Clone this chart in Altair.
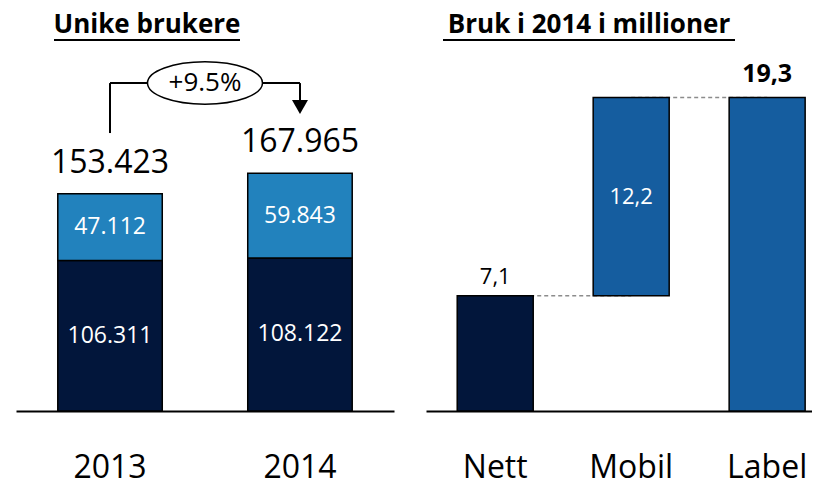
import altair as alt
import pandas as pd

# ---------------- data ----------------
years = ["2013", "2014"]
lower_values = [106311, 108122]
upper_values = [47112, 59843]
lower_labels = ["106.311", "108.122"]
upper_labels = ["47.112", "59.843"]
total_values = [153423, 167965]
total_labels = ["153.423", "167.965"]
growth_label = "+9.5%"
left_title = "Unike brukere"

wf_categories = ["Nett", "Mobil", "Label"]
wf_start = [0, 7.1, 0]
wf_end = [7.1, 19.3, 19.3]
wf_labels = ["7,1", "12,2", "19,3"]
right_title = "Bruk i 2014 i millioner"

# ---------------- style ----------------
FONT = "Open Sans"
NAVY = "#02163b"
LIGHT = "#2282bd"
MID = "#155d9f"

LW, LH = 378, 403
RW, RH = 386, 403
L_MAX = 284600
R_MAX = 24.8

# bracket annotation heights (data units of left panel)
ANN_LOW = 196300
ANN_TOP = 231600
ANN_ARROW = 219600
ANN_TIP = 214700

L_PI, L_PO = 0.45, 0.22
L_STEP = LW / (len(years) - L_PI + 2 * L_PO)

ELLIPSE = ("M-1,0 C-1,-0.2036 -0.5523,-0.3684 0,-0.3684 "
           "C0.5523,-0.3684 1,-0.2036 1,0 "
           "C1,0.2036 0.5523,0.3684 0,0.3684 "
           "C-0.5523,0.3684 -1,0.2036 -1,0 Z")

axis_common = dict(title=None, labelFontSize=32, labelFont=FONT, labelColor="black",
                   labelAngle=0, labelPadding=41, ticks=False, domainColor="black",
                   domainWidth=2, grid=False)

# ---------------- left panel ----------------
seg_rows = []
for i, yr in enumerate(years):
    seg_rows.append(dict(year=yr, seg="lower", start=0, end=lower_values[i],
                         mid=lower_values[i] / 2, label=lower_labels[i]))
    seg_rows.append(dict(year=yr, seg="upper", start=lower_values[i],
                         end=lower_values[i] + upper_values[i],
                         mid=lower_values[i] + upper_values[i] / 2, label=upper_labels[i]))
seg_df = pd.DataFrame(seg_rows)
tot_df = pd.DataFrame(dict(year=years, total=total_values, label=total_labels))

l_scale = alt.Scale(domain=years, paddingInner=L_PI, paddingOuter=L_PO)
xL = alt.X("year:N", sort=years, scale=l_scale, axis=alt.Axis(**axis_common))
yS_L = alt.Scale(domain=[0, L_MAX], nice=False, zero=True)

bars_L = alt.Chart(seg_df).mark_bar(stroke="black", strokeWidth=1.5).encode(
    x=xL,
    y=alt.Y("start:Q", scale=yS_L, axis=None),
    y2="end:Q",
    color=alt.Color("seg:N", scale=alt.Scale(domain=["lower", "upper"], range=[NAVY, LIGHT]),
                    legend=None),
)
inner_L = alt.Chart(seg_df).mark_text(color="white", font=FONT, fontSize=23,
                                      baseline="middle").encode(
    x=xL, y=alt.Y("mid:Q", scale=yS_L, axis=None), text="label:N")
tot_L = alt.Chart(tot_df).mark_text(color="black", font=FONT, fontSize=32,
                                    baseline="middle", dy=-31).encode(
    x=xL, y=alt.Y("total:Q", scale=yS_L, axis=None), text="label:N")

ann_df = pd.DataFrame(dict(a=[years[0]], b=[years[1]], low=[ANN_LOW], top=[ANN_TOP],
                           arrow=[ANN_ARROW], tip=[ANN_TIP], label=[growth_label]))
xa = alt.X("a:N", sort=years, scale=l_scale, axis=alt.Axis(**axis_common))
xb = alt.X("b:N", sort=years, scale=l_scale, axis=alt.Axis(**axis_common))
ann_base = alt.Chart(ann_df)
ann_h = ann_base.mark_rule(color="black", strokeWidth=2).encode(
    x=xa, x2="b:N", y=alt.Y("top:Q", scale=yS_L, axis=None))
ann_l = ann_base.mark_rule(color="black", strokeWidth=2).encode(
    x=xa, y=alt.Y("low:Q", scale=yS_L, axis=None), y2="top:Q")
ann_r = ann_base.mark_rule(color="black", strokeWidth=2).encode(
    x=xb, y=alt.Y("arrow:Q", scale=yS_L, axis=None), y2="top:Q")
ann_tri = ann_base.mark_point(shape="triangle-down", size=256, filled=True, fill="black",
                              opacity=1).encode(
    x=xb, y=alt.Y("tip:Q", scale=yS_L, axis=None))
ann_ell = ann_base.mark_point(shape=ELLIPSE, size=13225, filled=True, fill="white",
                              stroke="black", strokeWidth=1.5, opacity=1,
                              xOffset=L_STEP / 2).encode(
    x=xa, y=alt.Y("top:Q", scale=yS_L, axis=None))
ann_txt = ann_base.mark_text(font=FONT, fontSize=26, color="black", baseline="middle",
                             dx=L_STEP / 2).encode(
    x=xa, y=alt.Y("top:Q", scale=yS_L, axis=None), text="label:N")

title_L = alt.Chart(pd.DataFrame(dict(t=[left_title]))).mark_text(
    font=FONT, fontSize=26, fontWeight="bold", color="black", baseline="middle").encode(
    text="t:N", x=alt.value(131), y=alt.value(17))
uline_L = alt.Chart(pd.DataFrame(dict(t=[left_title]))).mark_rule(
    color="black", strokeWidth=2).encode(x=alt.value(38), x2=alt.value(224), y=alt.value(32))

left = alt.layer(bars_L, inner_L, tot_L, ann_h, ann_l, ann_r, ann_tri, ann_ell, ann_txt,
                 title_L, uline_L).properties(width=LW, height=LH)

# ---------------- right panel ----------------
wf_df = pd.DataFrame(dict(cat=wf_categories, start=wf_start, end=wf_end, label=wf_labels))
wf_df["mid"] = (wf_df["start"] + wf_df["end"]) / 2
conn_df = pd.DataFrame(dict(a=wf_categories[:2], b=wf_categories[1:],
                            level=[wf_end[0], wf_end[1]]))

r_scale = alt.Scale(domain=wf_categories, paddingInner=0.441, paddingOuter=0.14, align=0.82)
xR = alt.X("cat:N", sort=wf_categories, scale=r_scale, axis=alt.Axis(**axis_common))
yS_R = alt.Scale(domain=[0, R_MAX], nice=False, zero=True)

conn = alt.Chart(conn_df).mark_rule(color="#8c8c8c", strokeWidth=1.5, strokeDash=[4, 3]).encode(
    x=alt.X("a:N", sort=wf_categories, scale=r_scale, axis=alt.Axis(**axis_common)),
    x2="b:N",
    y=alt.Y("level:Q", scale=yS_R, axis=None))
bars_R = alt.Chart(wf_df).mark_bar(stroke="black", strokeWidth=1.5).encode(
    x=xR,
    y=alt.Y("start:Q", scale=yS_R, axis=None),
    y2="end:Q",
    color=alt.Color("cat:N", scale=alt.Scale(domain=wf_categories, range=[NAVY, MID, MID]),
                    legend=None))
lab_nett = alt.Chart(wf_df).transform_filter(alt.datum.cat == wf_categories[0]).mark_text(
    font=FONT, fontSize=22, color="black", baseline="middle", dy=-19).encode(
    x=xR, y=alt.Y("end:Q", scale=yS_R, axis=None), text="label:N")
lab_mob = alt.Chart(wf_df).transform_filter(alt.datum.cat == wf_categories[1]).mark_text(
    font=FONT, fontSize=22, color="white", baseline="middle").encode(
    x=xR, y=alt.Y("mid:Q", scale=yS_R, axis=None), text="label:N")
lab_tot = alt.Chart(wf_df).transform_filter(alt.datum.cat == wf_categories[2]).mark_text(
    font=FONT, fontSize=25, fontWeight="bold", color="black", baseline="middle", dy=-23).encode(
    x=xR, y=alt.Y("end:Q", scale=yS_R, axis=None), text="label:N")

title_R = alt.Chart(pd.DataFrame(dict(t=[right_title]))).mark_text(
    font=FONT, fontSize=26, fontWeight="bold", color="black", baseline="middle").encode(
    text="t:N", x=alt.value(163), y=alt.value(17))
uline_R = alt.Chart(pd.DataFrame(dict(t=[right_title]))).mark_rule(
    color="black", strokeWidth=2).encode(x=alt.value(17), x2=alt.value(309), y=alt.value(32))

right = alt.layer(conn, bars_R, lab_nett, lab_mob, lab_tot, title_R, uline_R).properties(
    width=RW, height=RH)

chart = alt.hconcat(left, right, spacing=32).resolve_scale(color="independent").properties(
    padding={"left": 8, "top": 0, "right": 0, "bottom": 0}
).configure_view(stroke=None).configure_axis(grid=False)

chart.save("out.html", embed_options={"renderer": "svg", "actions": False})
